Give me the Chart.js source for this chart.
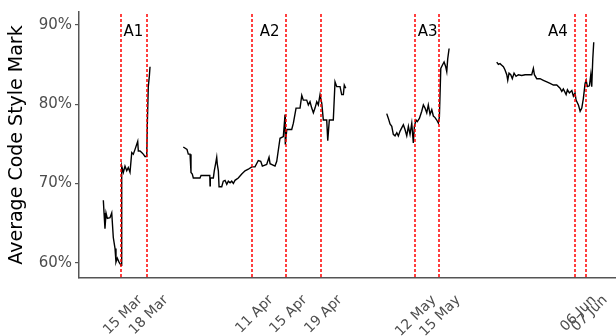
<!DOCTYPE html>
<html>
<head>
<meta charset="utf-8">
<script src="https://cdn.jsdelivr.net/npm/chart.js@4.4.1/dist/chart.umd.min.js"></script>
<style>
  html, body { margin: 0; padding: 0; background: #fff; }
  #wrap { width: 616px; height: 336px; }
</style>
</head>
<body>
<div id="wrap"><canvas id="myChart" width="616" height="336"></canvas></div>
<script>
// x = position on the (compressed) timeline, y = average mark in %
const seg1X = [2.81, 2.89, 3.00, 3.12, 3.27, 3.58, 3.78, 3.96, 4.16, 4.27, 4.42, 4.62, 4.85, 4.93, 5.12, 5.31, 5.51, 5.69, 5.89, 6.09, 6.27, 6.47, 6.66, 6.78, 6.85, 7.04, 7.24, 7.42, 7.62, 7.82, 7.89, 8.00, 8.12, 8.20];
const seg1Y = [67.9, 66.3, 64.3, 66.3, 65.6, 65.7, 66.3, 63.2, 61.8, 60.1, 60.6, 60.1, 59.7, 72.2, 71.4, 72.2, 71.6, 72.0, 71.4, 73.9, 73.7, 74.3, 74.9, 75.3, 74.1, 74.1, 73.9, 73.7, 73.4, 73.4, 77.6, 82.2, 83.5, 84.7];

const seg2X = [12.04, 12.47, 12.62, 12.82, 12.93, 13.08, 13.20, 13.59, 13.97, 14.09, 14.93, 15.10, 15.13, 15.16, 15.51, 15.62, 15.79, 15.90, 15.97, 16.09, 16.17, 16.48, 16.66, 16.86, 17.06, 17.24, 17.44, 17.63, 17.82, 18.01, 18.39, 18.79, 19.17, 19.55, 19.94, 20.32, 20.70, 20.98, 21.17, 21.67, 21.94, 22.06, 22.63, 22.83, 23.21, 23.59, 23.79, 23.82, 23.99, 24.56, 24.75, 25.06, 25.52, 25.72, 25.90, 26.29, 26.48, 26.67, 26.87, 27.06, 27.25, 27.45, 27.63, 27.83, 28.03, 28.21, 28.60, 28.72, 28.90, 29.36, 29.56, 29.76, 30.14, 30.33, 30.52, 30.63, 30.80];
const seg2Y = [74.6, 74.3, 73.7, 73.7, 71.4, 71.2, 70.7, 70.7, 70.7, 71.0, 71.0, 71.0, 69.7, 70.7, 70.7, 71.6, 72.6, 73.3, 72.4, 71.6, 69.6, 69.6, 70.3, 70.4, 69.9, 70.3, 70.1, 70.3, 70.0, 70.4, 70.7, 71.2, 71.6, 71.8, 72.1, 72.1, 72.9, 72.8, 72.2, 72.4, 73.3, 72.5, 72.2, 72.8, 75.7, 75.9, 78.7, 74.9, 76.8, 76.8, 77.6, 79.5, 79.5, 81.1, 80.5, 80.5, 79.9, 80.3, 79.5, 78.9, 79.5, 80.3, 79.9, 81.2, 80.1, 78.0, 78.0, 75.4, 78.0, 78.0, 82.8, 82.2, 82.2, 81.2, 81.2, 82.4, 82.0];

const seg3X = [35.53, 35.72, 35.91, 36.11, 36.29, 36.49, 36.69, 36.87, 37.07, 37.26, 37.45, 37.64, 37.84, 38.03, 38.22, 38.42, 38.60, 38.72, 38.91, 39.06, 39.30, 39.57, 39.76, 39.95, 40.15, 40.33, 40.53, 40.73, 40.91, 41.11, 41.30, 41.49, 41.61, 41.77, 41.95, 42.15, 42.34, 42.46, 42.57, 42.73];
const seg3Y = [78.8, 78.2, 77.5, 77.2, 76.2, 76.0, 76.4, 76.0, 76.6, 77.0, 77.4, 76.8, 76.0, 77.2, 76.2, 77.6, 75.1, 77.2, 78.0, 77.8, 78.2, 79.1, 79.9, 79.5, 78.9, 79.9, 78.7, 79.3, 78.5, 78.3, 78.0, 77.6, 78.4, 84.5, 84.9, 85.3, 84.7, 84.1, 85.7, 87.0];

const seg4X = [48.23, 48.42, 48.61, 48.81, 49.00, 49.19, 49.39, 49.50, 49.65, 49.85, 50.03, 50.23, 50.46, 50.73, 51.12, 51.50, 51.88, 52.27, 52.46, 52.58, 52.85, 53.23, 53.61, 54.01, 54.39, 54.77, 55.16, 55.54, 55.74, 55.92, 56.24, 56.39, 56.62, 56.90, 57.08, 57.27, 57.39, 57.66, 57.86, 58.05, 58.23, 58.43, 58.55, 58.70, 58.93, 59.09, 59.20, 59.32, 59.43];
const seg4Y = [85.3, 85.0, 85.1, 84.9, 84.7, 84.3, 83.7, 83.0, 83.9, 83.7, 83.2, 83.9, 83.5, 83.7, 83.6, 83.7, 83.7, 83.7, 84.5, 83.7, 83.2, 83.2, 83.0, 82.8, 82.6, 82.4, 82.4, 82.0, 81.6, 81.9, 81.2, 81.8, 81.4, 81.7, 81.0, 81.4, 80.5, 79.9, 79.1, 79.5, 80.7, 82.6, 83.0, 82.2, 82.3, 83.7, 82.2, 85.7, 87.8];

// dated markers (red dashed lines) and their labels
const tickPos = [4.89, 7.85, 19.98, 23.9, 27.95, 38.8, 41.6, 57.27, 58.55];
const tickLabels = ['15 Mar', '18 Mar', '11 Apr', '15 Apr', '19 Apr', '12 May', '15 May', '06 Jun', '07 Jun'];

const phaseNames = ['A1', 'A2', 'A3', 'A4'];
const phasePos = [6.29, 22.0, 40.24, 55.3];

const yTicks = [60, 70, 80, 90];

const toPoints = (xs, ys) => xs.map((x, i) => ({x: x, y: ys[i]}));

const segments = [[seg1X, seg1Y], [seg2X, seg2Y], [seg3X, seg3Y], [seg4X, seg4Y]];

// red dashed lines at the marked dates + A1..A4 labels
const markerPlugin = {
    id: 'markers',
    afterDatasetsDraw(chart) {
        const ctx = chart.ctx;
        const xs = chart.scales.x;
        const ys = chart.scales.y;
        const area = chart.chartArea;
        ctx.save();
        ctx.strokeStyle = 'rgb(255, 0, 0)';
        ctx.lineWidth = 1.5;
        ctx.setLineDash([3, 2]);
        tickPos.forEach(v => {
            const px = Math.round(xs.getPixelForValue(v));
            ctx.beginPath();
            ctx.moveTo(px, area.top + 2);
            ctx.lineTo(px, area.bottom);
            ctx.stroke();
        });
        ctx.setLineDash([]);
        ctx.font = '15px "DejaVu Sans"';
        ctx.fillStyle = '#000';
        ctx.textAlign = 'center';
        ctx.textBaseline = 'middle';
        phaseNames.forEach((name, i) => {
            ctx.fillText(name, xs.getPixelForValue(phasePos[i]), ys.getPixelForValue(89.1));
        });
        ctx.restore();
    }
};

let myChart = document.getElementById('myChart').getContext('2d');
let styleChart = new Chart(myChart, {
    type: 'line',
    data: {
        datasets: segments.map(s => ({
            data: toPoints(s[0], s[1]),
            borderColor: '#000',
            borderWidth: 1.4,
            pointRadius: 0,
            tension: 0,
            fill: false
        }))
    },
    plugins: [markerPlugin],
    options: {
        responsive: false,
        animation: false,
        layout: { padding: { top: 10, right: 0, left: 0, bottom: 0 } },
        plugins: { legend: { display: false }, tooltip: { enabled: false } },
        scales: {
            x: {
                type: 'linear',
                min: 0,
                max: 62,
                afterBuildTicks: scale => { scale.ticks = tickPos.map(v => ({value: v})); },
                afterFit: scale => { scale.height = 58; },
                grid: { display: false, drawTicks: false },
                border: { color: '#555', width: 1.5 },
                ticks: {
                    minRotation: 45,
                    maxRotation: 45,
                    autoSkip: false,
                    padding: 14,
                    labelOffset: 19,
                    color: '#4d4d4d',
                    font: { family: 'DejaVu Sans', size: 14 },
                    callback: (value, index) => tickLabels[index]
                }
            },
            y: {
                min: 58.1,
                max: 91.6,
                afterBuildTicks: scale => { scale.ticks = yTicks.map(v => ({value: v})); },
                afterFit: scale => { scale.width = 79; },
                grid: { drawOnChartArea: false, drawTicks: true, tickLength: 4, color: '#555', lineWidth: 1.2 },
                border: { color: '#555', width: 1.5 },
                ticks: {
                    padding: 3,
                    color: '#4d4d4d',
                    font: { family: 'DejaVu Sans', size: 15 },
                    callback: v => v + '%'
                },
                title: {
                    display: true,
                    text: 'Average Code Style Mark',
                    color: '#000',
                    font: { family: 'DejaVu Sans', size: 19 },
                    padding: { top: 6, bottom: 0 }
                }
            }
        }
    }
});
</script>
</body>
</html>
